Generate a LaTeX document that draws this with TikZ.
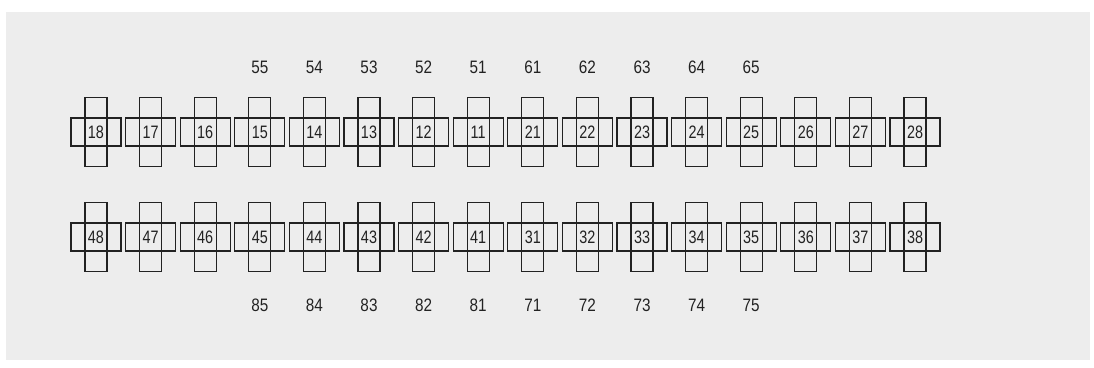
\documentclass[tikz,border=0pt]{standalone}
\usepackage{fontspec}
\setmainfont{Liberation Sans}
\definecolor{ink}{HTML}{222222}
\definecolor{paper}{HTML}{EDEDED}
\begin{document}
\begin{tikzpicture}[x=1pt,y=-1pt,
  hbox/.style={draw=ink,line width=1.3pt,minimum width=50pt,minimum height=28pt,inner sep=0pt,
    font=\fontsize{18}{18}\selectfont,text=ink},
  vbox/.style={draw=ink,line width=1.3pt,minimum width=22pt,minimum height=69pt,inner sep=0pt},
  lbl/.style={font=\fontsize{18}{18}\selectfont,text=ink,inner sep=0pt}]
\useasboundingbox (0,0) rectangle (1094,367);
\fill[white] (0,0) rectangle (1094,367);
\fill[paper] (6,12) rectangle (1090,360);
% upper teeth
\foreach \t [count=\i from 0] in {18,17,16,15,14,13,12,11,21,22,23,24,25,26,27,28}{
  \node[vbox] (v\t) at ({96+54.6*\i},132) {};
  \node[hbox] (h\t) at ({96+54.6*\i},132) {\scalebox{0.8}[1]{\t}};
}
% lower teeth
\foreach \t [count=\i from 0] in {48,47,46,45,44,43,42,41,31,32,33,34,35,36,37,38}{
  \node[vbox] (v\t) at ({96+54.6*\i},237) {};
  \node[hbox] (h\t) at ({96+54.6*\i},237) {\scalebox{0.8}[1]{\t}};
}
% deciduous labels
\foreach \t [count=\i from 3] in {55,54,53,52,51,61,62,63,64,65}{
  \node[lbl] (u\t) at ({96+54.6*\i},67) {\scalebox{0.85}[1]{\t}};
}
\foreach \t [count=\i from 3] in {85,84,83,82,81,71,72,73,74,75}{
  \node[lbl] (d\t) at ({96+54.6*\i},305) {\scalebox{0.85}[1]{\t}};
}
\end{tikzpicture}
\end{document}
